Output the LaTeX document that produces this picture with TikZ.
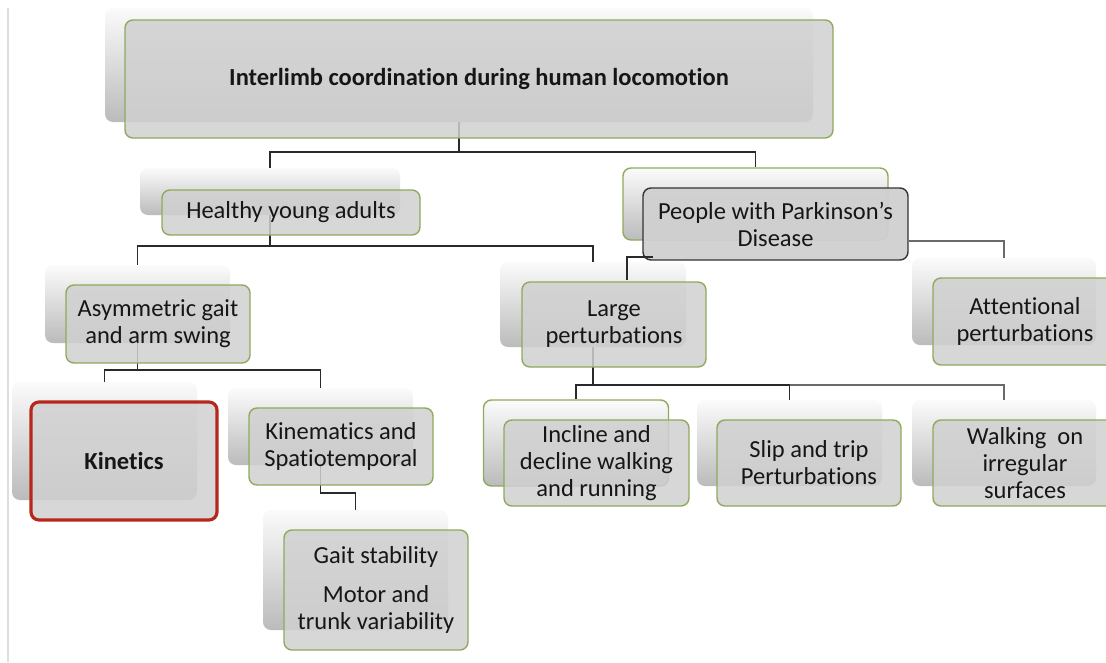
\documentclass[tikz,border=0pt]{standalone}
\usepackage{fontspec}
\setmainfont{Carlito}[Ligatures=NoCommon]
\definecolor{boxgray}{HTML}{D0D0D0}
\definecolor{boxgreen}{HTML}{8FAA5C}
\definecolor{backtop}{HTML}{FBFBFB}
\definecolor{backbot}{HTML}{BBBBBB}
\definecolor{kinred}{HTML}{B5281E}
\definecolor{linedark}{HTML}{2A2A2A}
\definecolor{linegray}{HTML}{6A6A6A}
\definecolor{txt}{HTML}{161616}
\begin{document}
\begin{tikzpicture}[x=1pt,y=-1pt,
  front/.style={draw=boxgreen, line width=1.4pt, fill=boxgray, fill opacity=0.85, text opacity=1,
    rounded corners=8pt, align=center, inner sep=0pt, text=txt,
    font=\fontsize{24.5}{27}\selectfont},
  back/.style={rounded corners=8pt, top color=backtop, bottom color=backbot, draw=none, inner sep=0pt},
  conn/.style={draw=linedark, line width=1.6pt},
  conng/.style={draw=linegray, line width=1.6pt}]
\clip (0,0) rectangle (1106,662);
\fill[white] (0,0) rectangle (1106,662);
\draw[black!13, line width=2pt] (8,8) -- (8,662);

% back boxes
\node[back, minimum width=708pt, minimum height=114pt] (topb) at (459,65) {};
\node[back, minimum width=260pt, minimum height=47pt] (hyb) at (270,191.5) {};
\node[back, draw=boxgreen, line width=1.4pt, minimum width=265pt, minimum height=72pt] (pdb) at (755.5,204) {};
\node[back, minimum width=185pt, minimum height=78pt] (asb) at (137.5,304) {};
\node[back, minimum width=186pt, minimum height=85pt] (lgb) at (593,304.5) {};
\node[back, minimum width=184pt, minimum height=87pt] (atb) at (1004,301.5) {};
\node[back, minimum width=185pt, minimum height=118pt] (kib) at (104.5,441) {};
\node[back, minimum width=185pt, minimum height=77pt] (kmb) at (320.5,426.5) {};
\node[back, minimum width=185pt, minimum height=120pt] (gsb) at (355.5,570) {};
\node[back, draw=boxgreen, line width=1.4pt, minimum width=185pt, minimum height=86pt] (inb) at (576,443) {};
\node[back, minimum width=185pt, minimum height=86pt] (slb) at (789.5,443) {};
\node[back, minimum width=184pt, minimum height=86pt] (wkb) at (1004,443) {};

% bus coordinates
\coordinate (bus0) at (0,152);
\coordinate (bus1) at (0,246);
\coordinate (bus2) at (0,370);
\coordinate (bus3) at (0,493);
\coordinate (bus4) at (0,385);
\coordinate (pdk) at (627,280);

% connectors
\draw[conn] (topb.south) -- (topb.south |- bus0) -| (hyb.north);
\draw[conn] (topb.south |- bus0) -| (pdb.north);
\draw[conn] (hyb.south) -- (hyb.south |- bus1) -| (asb.north);
\draw[conn] (hyb.south |- bus1) -| (lgb.north);
\draw[conn] (asb.south) -- (asb.south |- bus2) -| (kmb.north);
\draw[conn] (asb.south |- bus2) -| (kib.north);
\draw[conn] (kmb.south) -- (kmb.south |- bus3) -| (gsb.north);
\draw[conn] (lgb.south) -- (lgb.south |- bus4);
\draw[conn] (inb.north) |- (slb.north |- bus4) -- (slb.north);
\draw[conng] (slb.north |- bus4) -| (wkb.north);

% front boxes
\node[front, minimum width=708pt, minimum height=118pt, font=\fontsize{24.5}{27}\selectfont\bfseries] (top) at (479,79) {Interlimb coordination during human locomotion};
\node[front, minimum width=258pt, minimum height=45pt] (hy) at (291,212.5) {Healthy young adults};
\node[front, draw=black!80, fill opacity=0.95, minimum width=265pt, minimum height=72pt] (pd) at (775.5,224) {People with Parkinson’s\\Disease};
\draw[conn] (pd.south west) ++(11,-4) -| (pdk);
\draw[conng] (pd.east |- pdb.south) -| (atb.north);
\node[front, minimum width=184pt, minimum height=78pt] (as) at (158,324) {Asymmetric gait\\and arm swing};
\node[front, minimum width=184pt, minimum height=85pt] (lg) at (614,324.5) {Large\\perturbations};
\node[front, minimum width=184pt, minimum height=87pt] (at) at (1025,321.5) {Attentional\\perturbations};
\node[front, draw=kinred, line width=3.2pt, minimum width=186pt, minimum height=118pt, font=\fontsize{24.5}{27}\selectfont\bfseries] (ki) at (124,461) {Kinetics};
\node[front, minimum width=184pt, minimum height=77pt] (km) at (341,446.5) {Kinematics and\\Spatiotemporal};
\node[front, minimum width=184pt, minimum height=120pt] (gs) at (376,590) {Gait stability\\[12pt]Motor and\\trunk variability};
\node[front, minimum width=185pt, minimum height=86pt] (in) at (596.5,463) {Incline and\\decline walking\\and running};
\node[front, minimum width=184pt, minimum height=86pt] (sl) at (809,463) {Slip and trip\\Perturbations};
\node[front, minimum width=184pt, minimum height=86pt] (wk) at (1025,463) {Walking\ \ on\\irregular\\surfaces};
\end{tikzpicture}
\end{document}
